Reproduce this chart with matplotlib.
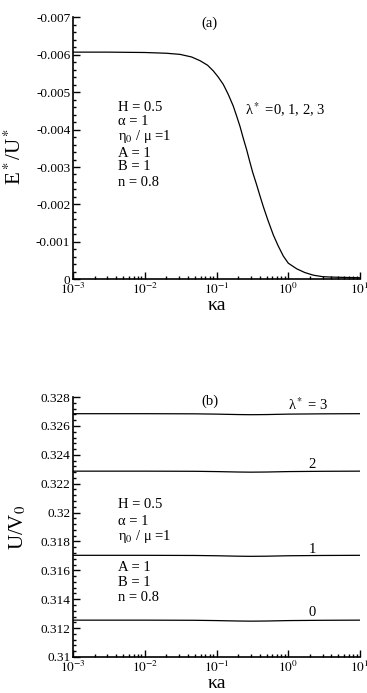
# E*/U* and U/V0 against kappa*a, two stacked panels

import matplotlib
matplotlib.use('Agg')
import matplotlib.pyplot as plt
from matplotlib.ticker import LogLocator, MultipleLocator, FormatStrFormatter, NullFormatter

plt.rcParams['font.family'] = ['Liberation Serif', 'DejaVu Serif']
plt.rcParams['mathtext.fontset'] = 'stix'

# panel (a): one curve for all lambda*
ka_a = [0.001, 0.003, 0.01, 0.02, 0.031, 0.045, 0.059, 0.075, 0.09, 0.105, 0.124,
        0.145, 0.171, 0.19, 0.212, 0.235, 0.263, 0.29, 0.32, 0.363, 0.40, 0.449,
        0.52, 0.62, 0.72, 0.853, 1.0, 1.31, 1.7, 2.23, 3.0, 3.82, 6.0, 10.0]
E_a = [-0.00607, -0.00607, -0.00606, -0.00604, -0.00601, -0.00594, -0.00584, -0.00572,
       -0.00557, -0.00541, -0.00521, -0.00495, -0.00463, -0.00437, -0.00409, -0.00378,
       -0.00346, -0.00315, -0.00285, -0.00252, -0.00225, -0.00194, -0.00158, -0.00118,
       -0.00090, -0.00062, -0.00043, -0.00028, -0.00018, -0.00011, -0.00007, -0.00006,
       -0.00005, -0.00004]

# panel (b): U/V0 for lambda* = 0, 1, 2, 3
ka_b = [0.001, 0.01, 0.05, 0.1, 0.2, 0.3, 0.5, 1.0, 3.0, 10.0]
U_l0 = [0.31255, 0.31255, 0.31254, 0.31252, 0.31249, 0.31248, 0.31249, 0.31252, 0.31254, 0.31255]
U_l1 = [0.31704, 0.31704, 0.31703, 0.31701, 0.31698, 0.31697, 0.31698, 0.31701, 0.31703, 0.31704]
U_l2 = [0.32287, 0.32287, 0.32286, 0.32284, 0.32281, 0.32280, 0.32281, 0.32284, 0.32286, 0.32287]
U_l3 = [0.32685, 0.32685, 0.32684, 0.32682, 0.32679, 0.32678, 0.32679, 0.32682, 0.32684, 0.32685]
lines_b = [(U_l0, '0'), (U_l1, '1'), (U_l2, '2'), (U_l3, u'\u03bb$^*$ = 3')]

params = ['H = 0.5', u'\u03b1 = 1', u'\u03b7$_0$ / \u03bc =1', 'A = 1', 'B = 1', 'n = 0.8']

xticks = [1e-3, 1e-2, 1e-1, 1e0, 1e1]
xticklabels = [r'$10^{-3}$', r'$10^{-2}$', r'$10^{-1}$', r'$10^{0}$', r'$10^{1}$']


def style_axes(ax):
    ax.set_xscale('log')
    ax.set_xlim(1e-3, 10)
    ax.set_xticks(xticks)
    ax.set_xticklabels(xticklabels)
    ax.xaxis.set_minor_locator(LogLocator(base=10, subs=range(2, 10)))
    ax.xaxis.set_minor_formatter(NullFormatter())
    for s in ['top', 'right']:
        ax.spines[s].set_visible(False)
    for s in ['left', 'bottom']:
        ax.spines[s].set_linewidth(1.2)
    ax.tick_params(which='both', direction='in', top=False, right=False, width=1.0)
    ax.tick_params(which='major', length=5, labelsize=9.5, pad=2)
    ax.tick_params(which='minor', length=2.5)
    ax.set_xlabel(u'\u03baa', fontsize=14, labelpad=0)


fig = plt.figure(figsize=(3.67, 6.93), dpi=100)

# (a)
ax1 = fig.add_axes([0.199, 0.597, 0.782, 0.378])
ax1.plot(ka_a, E_a, color='black', lw=0.9)
style_axes(ax1)
ax1.set_ylim(0, -0.007)
ax1.yaxis.set_major_locator(MultipleLocator(0.001))
ax1.yaxis.set_minor_locator(MultipleLocator(0.0002))
ax1.yaxis.set_major_formatter(FormatStrFormatter('%g'))
ax1.set_ylabel(r'E$^*$/U$^*$', fontsize=15)
ax1.yaxis.set_label_coords(-0.165, 0.47)
ax1.text(0.477, 0.977, '(a)', transform=ax1.transAxes, ha='center', va='center', fontsize=10.5)
ax1.text(0.599, 0.645, u'\u03bb$^*$ =0, 1, 2, 3', transform=ax1.transAxes,
         ha='left', va='center', fontsize=10.5)
ys_a = [0.656, 0.603, 0.546, 0.480, 0.429, 0.368]
for t, y in zip(params, ys_a):
    ax1.text(0.157, y, t, transform=ax1.transAxes, ha='left', va='center', fontsize=10.5)

# (b)
ax2 = fig.add_axes([0.199, 0.052, 0.782, 0.375])
for u, lab in lines_b:
    ax2.plot(ka_b, u, color='black', lw=0.9)
style_axes(ax2)
ax2.set_ylim(0.31, 0.328)
ax2.yaxis.set_major_locator(MultipleLocator(0.002))
ax2.yaxis.set_minor_locator(MultipleLocator(0.0004))
ax2.yaxis.set_major_formatter(FormatStrFormatter('%g'))
ax2.set_ylabel(r'U/V$_0$', fontsize=15)
ax2.yaxis.set_label_coords(-0.155, 0.5)
ax2.text(0.477, 0.985, '(b)', transform=ax2.transAxes, ha='center', va='center', fontsize=10.5)
lab_pos = [(0.833, 0.173), (0.833, 0.412), (0.833, 0.742), (0.749, 0.969)]
for (u, lab), (x, y) in zip(lines_b, lab_pos):
    ax2.text(x, y, lab, transform=ax2.transAxes, ha='left' if len(lab) > 1 else 'center',
             va='center', fontsize=10.5)
ys_b = [0.586, 0.521, 0.463, 0.346, 0.285, 0.227]
for t, y in zip(params, ys_b):
    ax2.text(0.157, y, t, transform=ax2.transAxes, ha='left', va='center', fontsize=10.5)

fig.savefig('out.png', dpi=100)
